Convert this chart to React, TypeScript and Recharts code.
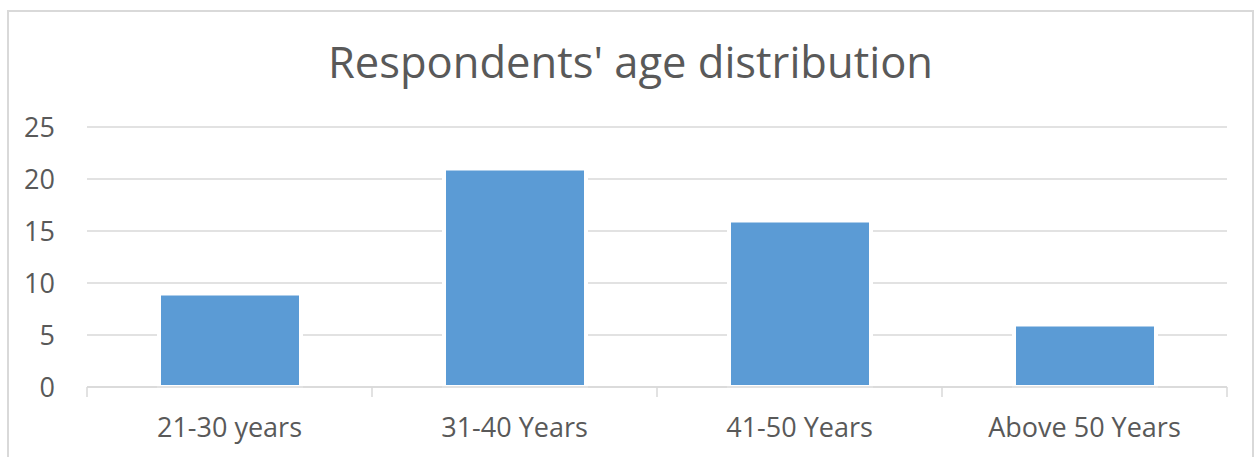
import { Bar, BarChart, CartesianGrid, XAxis, YAxis } from 'recharts';

const categories = ['21-30 years', '31-40 Years', '41-50 Years', 'Above 50 Years'];
const respondents = [9, 21, 16, 6];
const yTicks = [0, 5, 10, 15, 20, 25];

const TEXT = '#595959';
const GRID = '#d9d9d9';
const BAR = '#5b9bd5';
const FONT = '"Open Sans", "Liberation Sans", sans-serif';
const LABEL_GAP = 31;

const data = categories.map((name, i) => ({ name, value: respondents[i] }));

// category label plus the small divider marks between categories (Excel style)
function CategoryTick(props: any) {
  const { x, y, payload, index } = props;
  const half = payload?.offset ?? 0;
  const axisY = y - LABEL_GAP;
  return (
    <g>
      <line x1={x - half} x2={x - half} y1={axisY} y2={axisY + 10} stroke={GRID} strokeWidth={1.5} />
      {index === categories.length - 1 && (
        <line x1={x + half} x2={x + half} y1={axisY} y2={axisY + 10} stroke={GRID} strokeWidth={1.5} />
      )}
      <text x={x} y={y} dy="0.71em" textAnchor="middle" fontSize={27} fill={TEXT} fontFamily={FONT}>
        {payload.value}
      </text>
    </g>
  );
}

export default function App() {
  return (
    <div style={{ position: 'absolute', left: 0, top: 0, width: 1255, height: 457, overflow: 'hidden', background: '#fff', fontFamily: FONT }}>
      {/* chart area frame */}
      <div
        style={{
          position: 'absolute',
          left: 7,
          top: 10,
          width: 1247,
          height: 470,
          border: `2px solid ${GRID}`,
          boxSizing: 'border-box',
        }}
      />
      <div
        style={{
          position: 'absolute',
          left: 7,
          width: 1247,
          top: 32,
          textAlign: 'center',
          fontSize: 43.5,
          lineHeight: '60px',
          color: TEXT,
        }}
      >
        Respondents' age distribution
      </div>
      <div style={{ position: 'absolute', left: 0, top: 0 }}>
        <BarChart width={1255} height={457} data={data} margin={{ top: 127, right: 28, bottom: 0, left: 0 }}>
          <CartesianGrid vertical={false} stroke={GRID} strokeWidth={1.5} />
          <XAxis
            dataKey="name"
            height={70}
            axisLine={{ stroke: GRID, strokeWidth: 1.5 }}
            tickLine={false}
            tickSize={0}
            tickMargin={LABEL_GAP}
            interval={0}
            tick={<CategoryTick />}
          />
          <YAxis
            domain={[0, 25]}
            ticks={yTicks}
            width={87}
            axisLine={false}
            tickLine={false}
            tickSize={0}
            tickMargin={32}
            tick={{ fontSize: 27, fill: TEXT, fontFamily: FONT }}
          />
          <Bar
            dataKey="value"
            fill={BAR}
            stroke="#ffffff"
            strokeWidth={4}
            barSize={142}
            isAnimationActive={false}
          />
        </BarChart>
      </div>
    </div>
  );
}
